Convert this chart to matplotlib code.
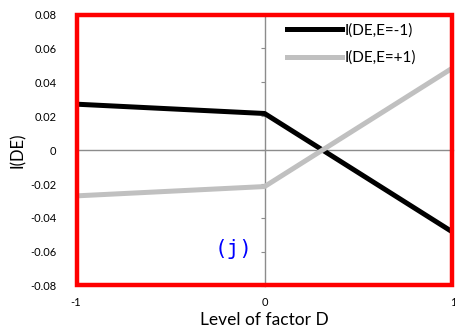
import matplotlib
matplotlib.use('Agg')
import matplotlib.pyplot as plt
from matplotlib.patches import Rectangle

plt.rcParams['font.family'] = ['Lato', 'DejaVu Sans']

# levels of factor D and the DE interaction at each level of E
levels = [-1, 0, 1]
de_e_minus = [0.027, 0.0215, -0.0485]
de_e_plus = [-0.027, -0.0215, 0.0485]

fig = plt.figure(figsize=(4.55, 3.36), dpi=100)
ax = fig.add_axes([0.167, 0.149, 0.829, 0.809])

ax.plot(levels, de_e_minus, color='black', lw=3.6, label='I(DE,E=-1)', zorder=3)
ax.plot(levels, de_e_plus, color='#c0c0c0', lw=3.6, label='I(DE,E=+1)', zorder=3)

ax.set_xlim(-1, 1)
ax.set_ylim(-0.08, 0.08)

# axes lines pass through the origin, labels stay on the outer edges
ax.spines['left'].set_position(('data', 0))
ax.spines['bottom'].set_position(('data', 0))
for s in ['left', 'bottom']:
    ax.spines[s].set_color('#8c8c8c')
    ax.spines[s].set_linewidth(1.0)
ax.spines['top'].set_visible(False)
ax.spines['right'].set_visible(False)
ax.set_yticks([-0.08, -0.06, -0.04, -0.02, 0, 0.02, 0.04, 0.06, 0.08])
ax.set_xticks([-1, 0, 1])
ax.tick_params(axis='y', direction='out', length=3, color='#8c8c8c', labelleft=False)
ax.tick_params(axis='x', length=0, labelbottom=False)

sy = ax.secondary_yaxis(0.0)
sy.set_yticks([-0.08, -0.06, -0.04, -0.02, 0, 0.02, 0.04, 0.06, 0.08])
sy.set_yticklabels(['-0.08', '-0.06', '-0.04', '-0.02', '0', '0.02', '0.04', '0.06', '0.08'])
sy.tick_params(length=0, labelsize=8, pad=14)
sy.spines['left'].set_visible(False)
sy.set_ylabel('I(DE)', fontsize=12, labelpad=3)

sx = ax.secondary_xaxis(0.0)
sx.set_xticks([-1, 0, 1])
sx.set_xticklabels(['-1', '0', '1'])
sx.tick_params(length=0, labelsize=8, pad=8)
sx.spines['bottom'].set_visible(False)
sx.set_xlabel('Level of factor D', fontsize=12.5, labelpad=3)

# frame around the plot area
ax.add_patch(Rectangle((0, 0), 1, 1, transform=ax.transAxes, fill=False,
                       edgecolor='black', lw=1.2, clip_on=False, zorder=4))
ax.add_patch(Rectangle((0.003, 0.004), 0.994, 0.992, transform=ax.transAxes, fill=False,
                       edgecolor='#ff0000', lw=3.2, clip_on=False, zorder=5))

ax.text(-0.065, -0.058, '(j)', color='#0000ff', fontsize=15,
        family='DejaVu Sans Mono', ha='right', va='center')

leg = ax.legend(loc='upper right', frameon=False, fontsize=11, handlelength=3.6,
                handletextpad=0.15, labelspacing=0.85, borderaxespad=0.2,
                bbox_to_anchor=(0.925, 1.0))

fig.savefig('out.png', dpi=100)
